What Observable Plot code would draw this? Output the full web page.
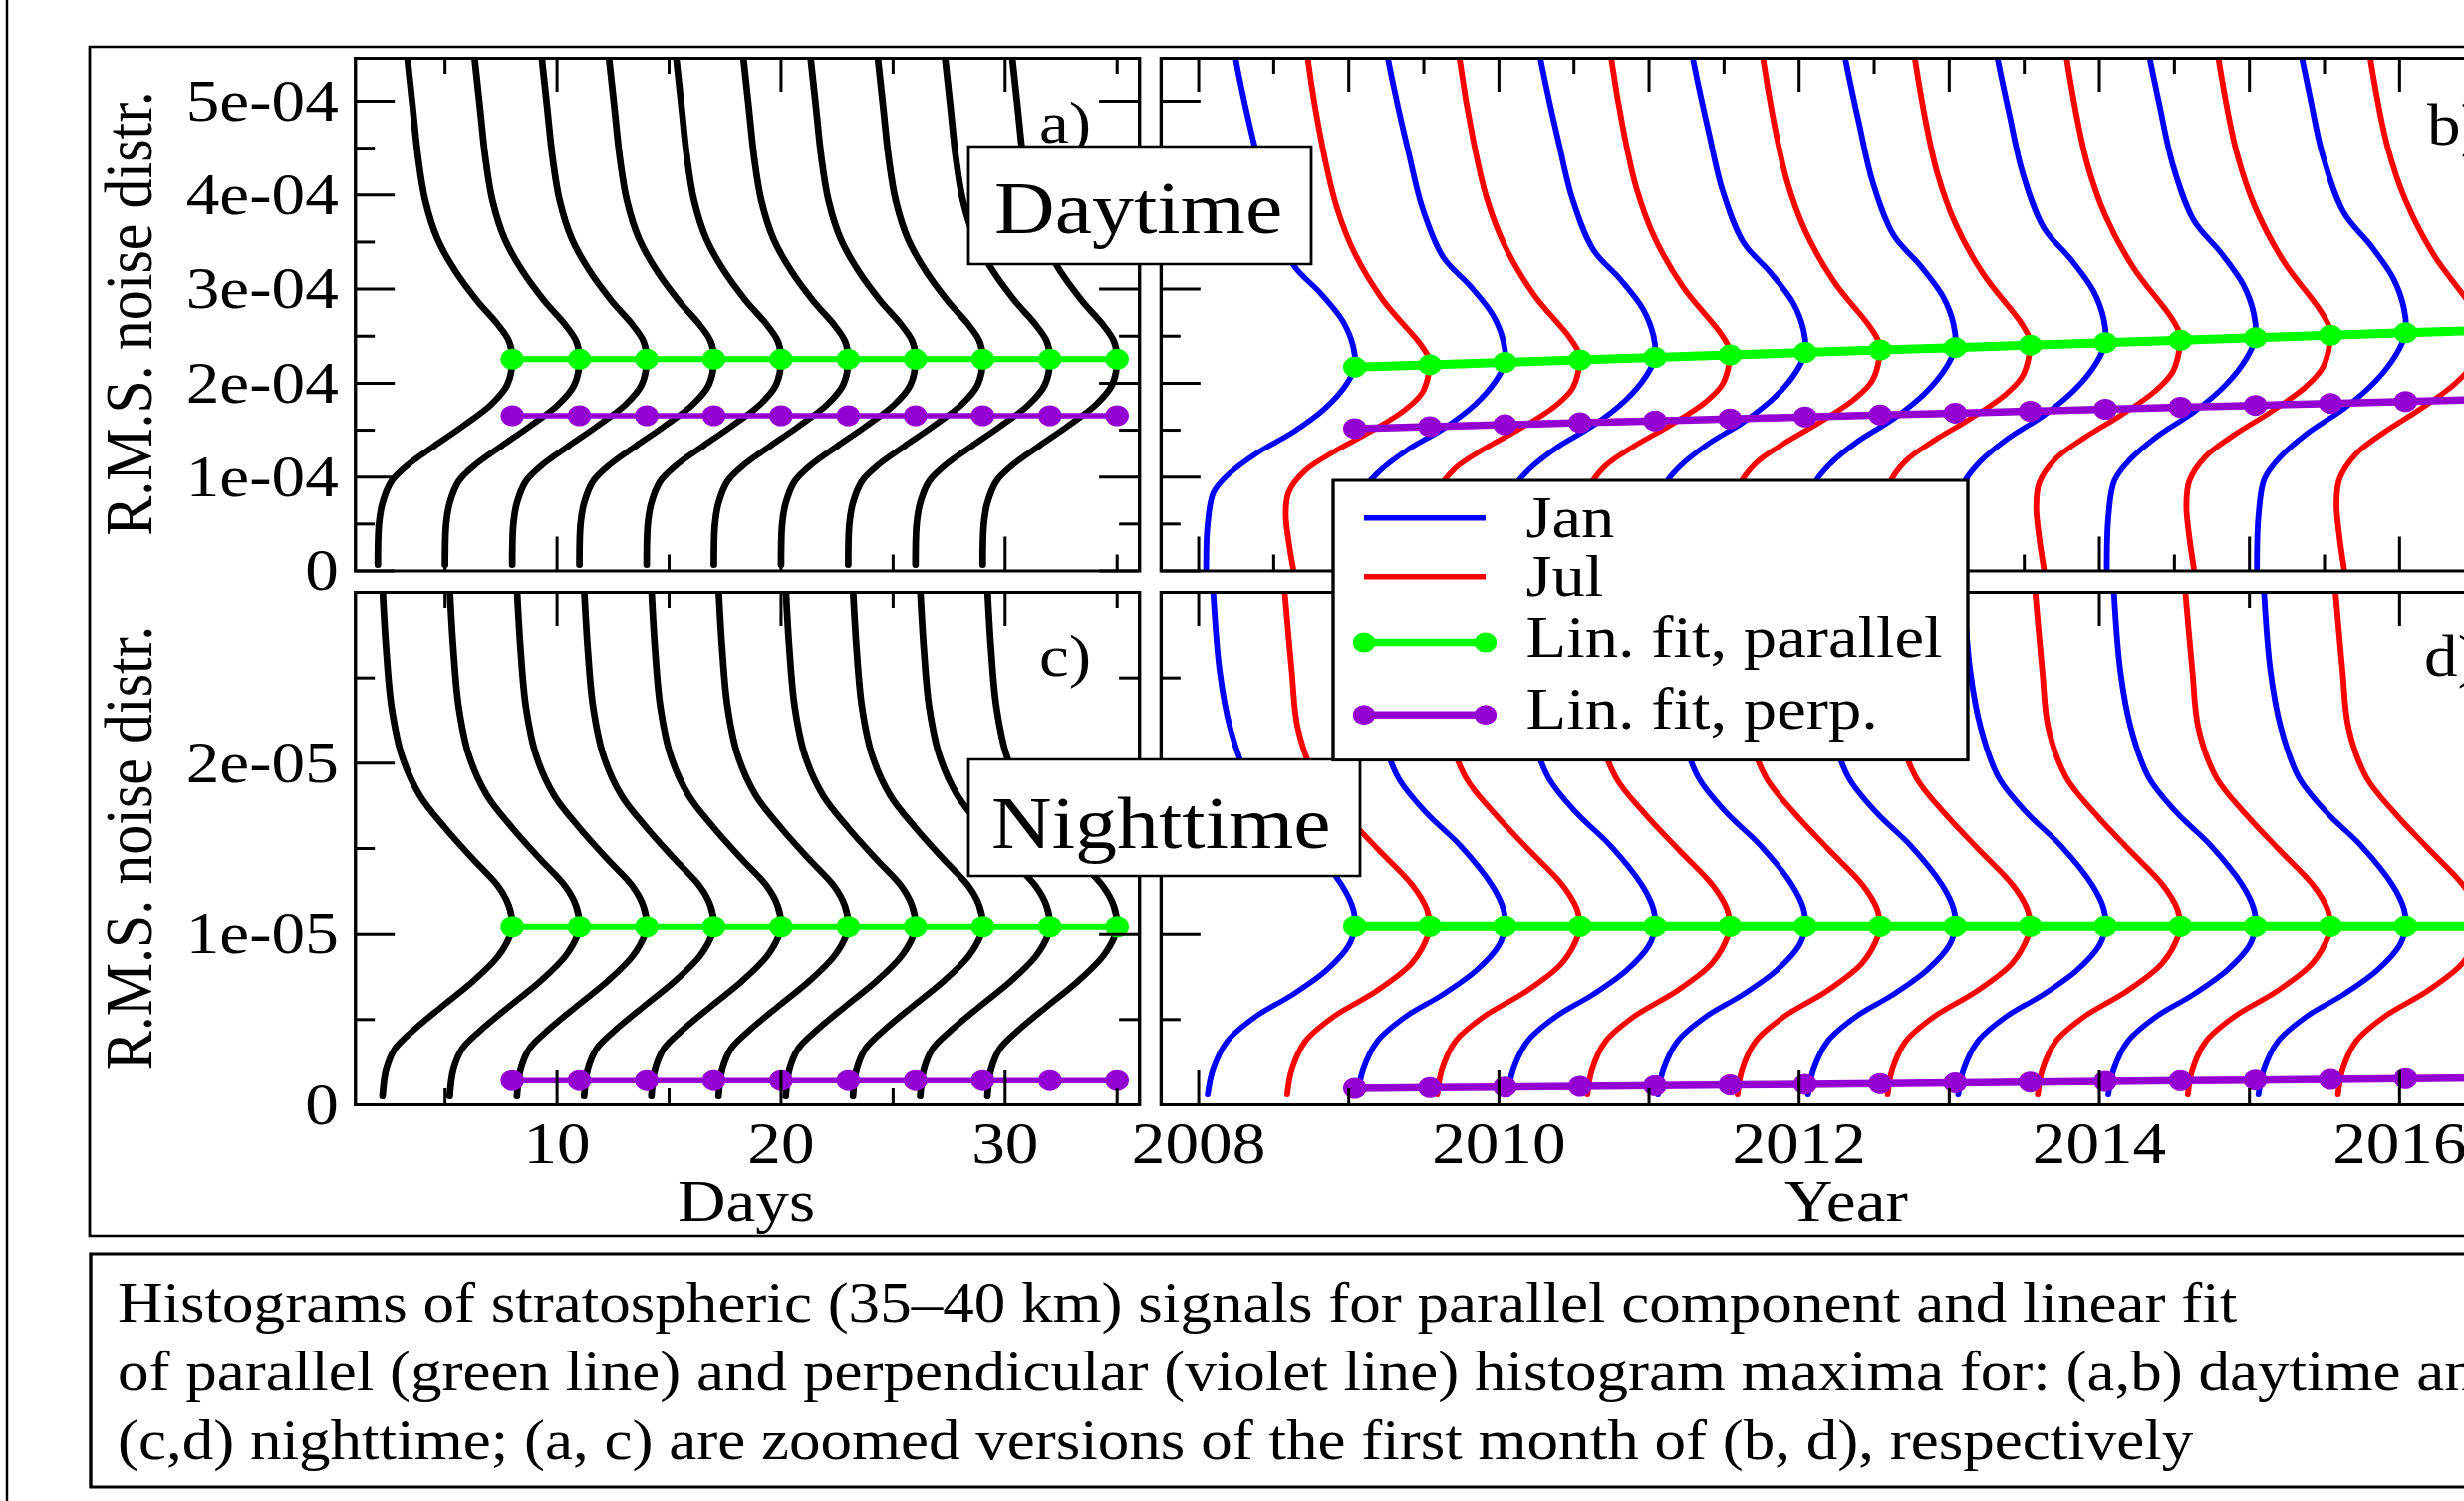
<!DOCTYPE html>
<html>
<head>
<meta charset="utf-8">
<script src="https://cdn.jsdelivr.net/npm/d3@7"></script>
<script src="https://cdn.jsdelivr.net/npm/@observablehq/plot@0.6"></script>
<style>
html, body { margin: 0; padding: 0; background: #fff; overflow: hidden; width: 2473px; height: 1506px; }
#stage { position: absolute; left: 0; top: 0; width: 2400px; height: 1506px; transform-origin: 0 0; }
</style>
</head>
<body>
<div id="stage"></div>
<script>
// ---------------- DATA ----------------
// Panel a / c : histogram maxima positions (days) and fitted maxima values
const dayPeaks = [8, 11, 14, 17, 20, 23, 26, 29, 32, 35];
const dayParallelA = [2.255e-4, 2.255e-4, 2.255e-4, 2.255e-4, 2.255e-4, 2.255e-4, 2.255e-4, 2.255e-4, 2.255e-4, 2.255e-4];
const dayPerpA = [1.654e-4, 1.654e-4, 1.654e-4, 1.654e-4, 1.654e-4, 1.654e-4, 1.654e-4, 1.654e-4, 1.654e-4, 1.654e-4];
const nightParallelC = [1.043e-5, 1.043e-5, 1.043e-5, 1.043e-5, 1.043e-5, 1.043e-5, 1.043e-5, 1.043e-5, 1.043e-5, 1.043e-5];
const nightPerpC = [1.42e-6, 1.42e-6, 1.42e-6, 1.42e-6, 1.42e-6, 1.42e-6, 1.42e-6, 1.42e-6, 1.42e-6, 1.42e-6];

// Panel b / d : histogram maxima positions (years), month of each histogram
const yearPeaks = [2009.04, 2009.54, 2010.04, 2010.54, 2011.04, 2011.54, 2012.04, 2012.54,
                   2013.04, 2013.54, 2014.04, 2014.54, 2015.04, 2015.54, 2016.04, 2016.54];
const months = ["Jan", "Jul", "Jan", "Jul", "Jan", "Jul", "Jan", "Jul",
                "Jan", "Jul", "Jan", "Jul", "Jan", "Jul", "Jan", "Jul"];
const dayParallelB = [2.170e-4, 2.196e-4, 2.222e-4, 2.248e-4, 2.274e-4, 2.300e-4, 2.327e-4, 2.353e-4,
                      2.379e-4, 2.405e-4, 2.431e-4, 2.457e-4, 2.483e-4, 2.510e-4, 2.536e-4, 2.562e-4];
const dayPerpB = [1.517e-4, 1.538e-4, 1.558e-4, 1.579e-4, 1.599e-4, 1.620e-4, 1.641e-4, 1.661e-4,
                  1.682e-4, 1.702e-4, 1.723e-4, 1.744e-4, 1.764e-4, 1.785e-4, 1.805e-4, 1.826e-4];
const nightParallelD = [1.046e-5, 1.046e-5, 1.046e-5, 1.046e-5, 1.046e-5, 1.046e-5, 1.046e-5, 1.046e-5,
                        1.046e-5, 1.046e-5, 1.046e-5, 1.046e-5, 1.046e-5, 1.046e-5, 1.046e-5, 1.046e-5];
const nightPerpD = [0.96e-6, 1.00e-6, 1.04e-6, 1.08e-6, 1.12e-6, 1.16e-6, 1.20e-6, 1.24e-6,
                    1.29e-6, 1.33e-6, 1.37e-6, 1.41e-6, 1.45e-6, 1.49e-6, 1.53e-6, 1.57e-6];

// Histogram outlines: [value / histogram maximum, horizontal offset from the maximum]
const profileDay = [[0.028,-6.0],[0.222,-5.95],[0.322,-5.79],[0.424,-5.39],[0.506,-4.60],[0.590,-3.49],[0.683,-2.22],
  [0.785,-0.95],[0.878,-0.23],[1.0,0],[1.086,-0.15],[1.162,-0.63],[1.277,-1.58],[1.415,-2.54],[1.565,-3.33],
  [1.747,-3.88],[1.951,-4.20],[2.186,-4.44],[2.44,-4.70]];
const profileNight = [[0.047,-5.79],[0.197,-5.63],[0.316,-5.23],[0.416,-4.44],[0.566,-3.01],[0.696,-1.74],[0.836,-0.63],
  [0.957,-0.08],[1.0,0],[1.116,-0.15],[1.226,-0.63],[1.377,-1.74],[1.556,-3.01],[1.735,-4.12],[1.956,-4.92],
  [2.234,-5.39],[2.56,-5.63],[2.90,-5.79]];
const profileJanDay = [[0.0115,-0.99],[0.23,-0.98],[0.387,-0.94],[0.475,-0.84],[0.58,-0.65],[0.682,-0.41],[0.797,-0.20],
  [0.912,-0.06],[1.0,0],[1.10,-0.01],[1.226,-0.08],[1.364,-0.23],[1.502,-0.41],[1.74,-0.55],[2.0,-0.64],
  [2.25,-0.72],[2.5,-0.79],[2.62,-0.81]];
const profileJulDay = [[0.011,-0.91],[0.141,-0.94],[0.278,-0.96],[0.383,-0.94],[0.487,-0.83],[0.578,-0.64],[0.674,-0.40],
  [0.779,-0.17],[0.865,-0.05],[1.0,0],[1.038,-0.01],[1.107,-0.07],[1.311,-0.31],[1.539,-0.50],[1.762,-0.62],
  [2.036,-0.71],[2.468,-0.81],[2.62,-0.83]];
const profileJanNight = [[0.056,-0.98],[0.196,-0.945],[0.356,-0.85],[0.495,-0.66],[0.615,-0.42],[0.754,-0.19],[0.894,-0.04],
  [1.0,0],[1.094,-0.01],[1.233,-0.09],[1.453,-0.30],[1.631,-0.52],[1.831,-0.71],[2.11,-0.83],[2.428,-0.90],[2.90,-0.945]];
const profileJulNight = [[0.056,-0.95],[0.196,-0.92],[0.356,-0.83],[0.495,-0.64],[0.641,-0.35],[0.794,-0.12],[0.956,-0.01],
  [1.0,0],[1.094,-0.02],[1.233,-0.12],[1.434,-0.35],[1.631,-0.57],[1.831,-0.76],[2.11,-0.88],[2.428,-0.92],[2.90,-0.97]];

// Ticks and tick labels
const dayMajorTicks = [10, 20, 30];
const dayMinorTicks = [5, 15, 25, 35];
const dayTickLabels = ["10", "20", "30"];
const yearMajorTicksB = [2008, 2009, 2010, 2011, 2012, 2013, 2014, 2015, 2016];
const yearMinorTicksB = [2008.5, 2009.5, 2010.5, 2011.5, 2012.5, 2013.5, 2014.5, 2015.5, 2016.5];
const yearMajorTicksD = [2008, 2010, 2012, 2014, 2016];
const yearMinorTicksD = [2009, 2011, 2013, 2015];
const yearTickLabels = ["2008", "2010", "2012", "2014", "2016"];
const dayYMajor = [0, 1e-4, 2e-4, 3e-4, 4e-4, 5e-4];
const dayYMinor = [0.5e-4, 1.5e-4, 2.5e-4, 3.5e-4, 4.5e-4];
const dayYLabels = ["0", "1e-04", "2e-04", "3e-04", "4e-04", "5e-04"];
const nightYMajor = [0, 1e-5, 2e-5, 3e-5];
const nightYMinor = [0.5e-5, 1.5e-5, 2.5e-5];
const nightYLabelValues = [0, 1e-5, 2e-5];
const nightYLabels = ["0", "1e-05", "2e-05"];

const seriesNames = ["Jan", "Jul", "Lin. fit, parallel", "Lin. fit, perp."];
const captionLines = [
  "Histograms of stratospheric (35\u201340 km) signals for parallel component and linear fit",
  "of parallel (green line) and perpendicular (violet line) histogram maxima for: (a,b) daytime and",
  "(c,d) nighttime; (a, c) are zoomed versions of the first month of (b, d), respectively"
];

// ---------------- LAYOUT ----------------
const S = 1.12; // horizontal stretch of the reference
const stage = document.getElementById("stage");
stage.style.transform = `scaleX(${S})`;
const FONT = "'Liberation Serif', 'Times New Roman', serif";
const COLORS = {Jan: "#0000ff", Jul: "#ff0000", all: "#000000", par: "#00ff00", perp: "#9400d3"};

function buildCurves(peaksX, peaksY, monthList, profiles) {
  const rows = [];
  peaksX.forEach((px, i) => {
    const m = monthList ? monthList[i] : "all";
    for (const [rel, off] of profiles[m]) rows.push({id: i, month: m, x: px + off, y: rel * peaksY[i]});
  });
  return rows;
}
function buildFit(xs, ys) { return xs.map((x, i) => ({x, y: ys[i]})); }

function makePanel(o) {
  const W = o.width, H = o.height;
  const xL = 34, xS = 16, yL = 40 / S, yS = 20 / S;
  const marks = [
    Plot.line(o.curves, {x: "x", y: "y", z: "id", stroke: "month", strokeWidth: o.curveWidth, curve: "catmull-rom", clip: true}),
    Plot.line(o.perp, {x: "x", y: "y", stroke: COLORS.perp, strokeWidth: o.perpWidth}),
    Plot.dot(o.perp, {x: "x", y: "y", r: 10.5, fill: COLORS.perp}),
    Plot.line(o.par, {x: "x", y: "y", stroke: COLORS.par, strokeWidth: o.parWidth}),
    Plot.dot(o.par, {x: "x", y: "y", r: 10.5, fill: COLORS.par}),
    Plot.tickX(o.xMajor, {x: d => d, insetTop: H - xL, strokeWidth: 2.7}),
    Plot.tickX(o.xMajor, {x: d => d, insetBottom: H - xL, strokeWidth: 2.7}),
    Plot.tickX(o.xMinor, {x: d => d, insetTop: H - xS, strokeWidth: 2.7}),
    Plot.tickX(o.xMinor, {x: d => d, insetBottom: H - xS, strokeWidth: 2.7}),
    Plot.tickY(o.yMajor, {y: d => d, insetRight: W - yL, strokeWidth: 3}),
    Plot.tickY(o.yMajor, {y: d => d, insetLeft: W - yL, strokeWidth: 3}),
    Plot.tickY(o.yMinor, {y: d => d, insetRight: W - yS, strokeWidth: 3}),
    Plot.tickY(o.yMinor, {y: d => d, insetLeft: W - yS, strokeWidth: 3}),
    Plot.frame({stroke: "black", strokeWidth: 3})
  ];
  if (o.yLabels) marks.push(Plot.axisY(o.yLabelValues, {anchor: "left", tickSize: 0, tickPadding: 17 / S,
      tickFormat: d => o.yLabels[o.yLabelValues.indexOf(d)], fontSize: 60, label: null}));
  if (o.xLabels) marks.push(Plot.axisX(o.xLabelValues, {anchor: "bottom", tickSize: 0, tickPadding: 16,
      tickFormat: d => o.xLabels[o.xLabelValues.indexOf(d)], fontSize: 60, label: null}));
  const svg = Plot.plot({
    width: W, height: H, margin: 0,
    x: {domain: o.xDomain, axis: null},
    y: {domain: o.yDomain, axis: null},
    color: {domain: ["Jan", "Jul", "all"], range: [COLORS.Jan, COLORS.Jul, COLORS.all]},
    style: `font-family: ${FONT}; font-size: 60px; color: black; overflow: visible; max-width: none; background: transparent; position: absolute; left: ${o.left}px; top: ${o.top}px;`,
    marks
  });
  stage.appendChild(svg);
}

const leftA = 356 / S, leftB = 1165 / S;
const wA = (1143 - 356) / S, wB = (2521 - 1165) / S;
const topDay = 57.5, hDay = 514.5, topNight = 594, hNight = 514;

makePanel({left: leftA, top: topDay, width: wA, height: hDay, xDomain: [1, 36], yDomain: [0, 5.456e-4],
  curves: buildCurves(dayPeaks, dayParallelA, null, {all: profileDay}),
  par: buildFit(dayPeaks, dayParallelA), perp: buildFit(dayPeaks, dayPerpA),
  curveWidth: 6, parWidth: 6, perpWidth: 5.5,
  xMajor: dayMajorTicks, xMinor: dayMinorTicks, yMajor: dayYMajor, yMinor: dayYMinor,
  yLabels: dayYLabels, yLabelValues: dayYMajor});

makePanel({left: leftB, top: topDay, width: wB, height: hDay, xDomain: [2007.75, 2016.75], yDomain: [0, 5.456e-4],
  curves: buildCurves(yearPeaks, dayParallelB, months, {Jan: profileJanDay, Jul: profileJulDay}),
  par: buildFit(yearPeaks, dayParallelB), perp: buildFit(yearPeaks, dayPerpB),
  curveWidth: 5.2, parWidth: 9, perpWidth: 7.5,
  xMajor: yearMajorTicksB, xMinor: yearMinorTicksB, yMajor: dayYMajor, yMinor: dayYMinor});

makePanel({left: leftA, top: topNight, width: wA, height: hNight, xDomain: [1, 36], yDomain: [0, 3e-5],
  curves: buildCurves(dayPeaks, nightParallelC, null, {all: profileNight}),
  par: buildFit(dayPeaks, nightParallelC), perp: buildFit(dayPeaks, nightPerpC),
  curveWidth: 6, parWidth: 6, perpWidth: 5.5,
  xMajor: dayMajorTicks, xMinor: dayMinorTicks, yMajor: nightYMajor, yMinor: nightYMinor,
  yLabels: nightYLabels, yLabelValues: nightYLabelValues,
  xLabels: dayTickLabels, xLabelValues: dayMajorTicks});

makePanel({left: leftB, top: topNight, width: wB, height: hNight, xDomain: [2007.75, 2016.75], yDomain: [0, 3e-5],
  curves: buildCurves(yearPeaks, nightParallelD, months, {Jan: profileJanNight, Jul: profileJulNight}),
  par: buildFit(yearPeaks, nightParallelD), perp: buildFit(yearPeaks, nightPerpD),
  curveWidth: 5.2, parWidth: 9, perpWidth: 7.5,
  xMajor: yearMajorTicksD, xMinor: yearMinorTicksD, yMajor: nightYMajor, yMinor: nightYMinor,
  xLabels: yearTickLabels, xLabelValues: yearMajorTicksD});

// ---------------- ANNOTATIONS (frames, titles, legend, caption) ----------------
const ov = d3.select(stage).append("svg")
  .attr("width", 2400).attr("height", 1506)
  .style("position", "absolute").style("left", "0px").style("top", "0px")
  .style("overflow", "visible")
  .attr("font-family", FONT);

ov.append("line").attr("x1", 7 / S).attr("x2", 7 / S).attr("y1", 0).attr("y2", 1506)
  .attr("stroke", "black").attr("stroke-width", 2.2);
ov.append("rect").attr("x", 90 / S).attr("y", 47).attr("width", 3000).attr("height", 1193)
  .attr("fill", "none").attr("stroke", "black").attr("stroke-width", 2.5);
ov.append("rect").attr("x", 91 / S).attr("y", 1258).attr("width", 3000).attr("height", 234)
  .attr("fill", "none").attr("stroke", "black").attr("stroke-width", 3);

captionLines.forEach((t, i) => {
  ov.append("text").attr("x", 118 / S).attr("y", [1326, 1395, 1464][i]).attr("font-size", 56.3).text(t);
});

[[314.5], [851]].forEach(([cy]) => {
  ov.append("text").attr("transform", `translate(${151.5 / S},${cy}) rotate(-90)`)
    .attr("text-anchor", "middle").attr("font-size", 60).text("R.M.S. noise distr.");
});
ov.append("text").attr("x", 749 / S).attr("y", 1225).attr("text-anchor", "middle").attr("font-size", 60).text("Days");
ov.append("text").attr("x", 1853 / S).attr("y", 1225).attr("text-anchor", "middle").attr("font-size", 60).text("Year");

[["a)", 1043, 143], ["b)", 2436, 145], ["c)", 1043, 678], ["d)", 2433, 678]].forEach(([t, x, y]) => {
  ov.append("text").attr("x", x / S).attr("y", y).attr("font-size", 60).text(t);
});

function labelBox(text, x0, x1, y0, y1, tx, ty) {
  ov.append("rect").attr("x", x0 / S).attr("y", y0).attr("width", (x1 - x0) / S).attr("height", y1 - y0)
    .attr("fill", "white").attr("stroke", "black").attr("stroke-width", 2.5);
  ov.append("text").attr("x", tx / S).attr("y", ty).attr("font-size", 75).text(text);
}
labelBox("Daytime", 972, 1316, 147, 265, 998, 234);
labelBox("Nighttime", 972, 1365, 762, 879, 995, 851);

// legend
ov.append("rect").attr("x", 1338 / S).attr("y", 482).attr("width", (1975 - 1338) / S).attr("height", 280.6)
  .attr("fill", "white").attr("stroke", "black").attr("stroke-width", 3);
const legendRows = [
  {name: seriesNames[0], color: COLORS.Jan, y: 519.8, ty: 539, w: 5.5, dots: false},
  {name: seriesNames[1], color: COLORS.Jul, y: 578.8, ty: 598, w: 5.5, dots: false},
  {name: seriesNames[2], color: COLORS.par, y: 644.6, ty: 658.7, w: 7.5, dots: true},
  {name: seriesNames[3], color: COLORS.perp, y: 717.3, ty: 731.4, w: 7.5, dots: true}
];
legendRows.forEach(r => {
  ov.append("line").attr("x1", 1369 / S).attr("x2", 1491 / S).attr("y1", r.y).attr("y2", r.y)
    .attr("stroke", r.color).attr("stroke-width", r.w);
  if (r.dots) {
    [1369, 1491].forEach(x => ov.append("circle").attr("cx", x / S).attr("cy", r.y).attr("r", 10).attr("fill", r.color));
  }
  ov.append("text").attr("x", 1531.5 / S).attr("y", r.ty).attr("font-size", 59.5).text(r.name);
});
</script>
</body>
</html>
